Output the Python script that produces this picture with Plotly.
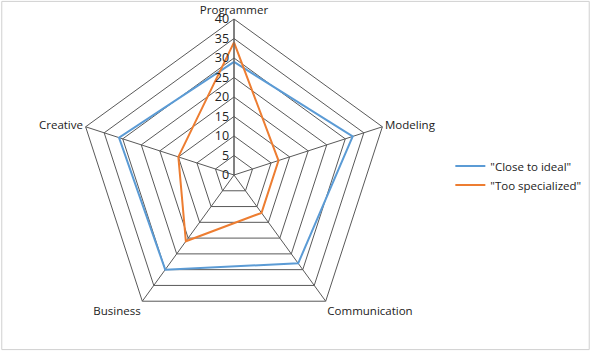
import plotly.graph_objects as go

categories = ["Programmer", "Modeling", "Communication", "Business", "Creative"]
close_to_ideal = [29, 32, 28, 30, 31]
too_specialized = [34, 12, 12, 21, 15]
series_names = ['"Close to ideal"', '"Too specialized"']
colors = ["#5B9BD5", "#ED7D31"]
radial_ticks = [0, 5, 10, 15, 20, 25, 30, 35, 40]

fig = go.Figure()
for name, vals, col in zip(series_names, [close_to_ideal, too_specialized], colors):
    fig.add_trace(go.Scatterpolar(
        r=vals + vals[:1],
        theta=categories + categories[:1],
        mode="lines",
        name=name,
        line=dict(color=col, width=2),
    ))

fig.update_layout(
    width=591, height=351,
    margin=dict(l=0, r=0, t=0, b=0),
    paper_bgcolor="white",
    plot_bgcolor="white",
    font=dict(family="Open Sans", size=11.5, color="#222"),
    polar=dict(
        domain=dict(x=[78/591, 390/591], y=[1-331/351, 1-19/351]),
        bgcolor="white",
        gridshape="linear",
        angularaxis=dict(
            direction="clockwise", rotation=90,
            showline=True, linecolor="#595959", linewidth=1,
            gridcolor="#595959", gridwidth=1,
            ticks="", tickfont=dict(size=11.5),
        ),
        radialaxis=dict(
            range=[0, 40], tickvals=radial_ticks, angle=90,
            side="counterclockwise", tickangle=90,
            showline=True, linecolor="#595959", linewidth=1,
            gridcolor="#595959", gridwidth=1,
            ticks="", tickfont=dict(size=12.5),
        ),
    ),
    legend=dict(x=0.762, y=0.5, yanchor="middle", xanchor="left",
                font=dict(size=11.5), bgcolor="rgba(0,0,0,0)",
                tracegroupgap=0),
    shapes=[dict(type="rect", xref="paper", yref="paper",
                 x0=0.003, x1=0.997, y0=0.004, y1=0.996,
                 line=dict(color="#d0d0d0", width=1))],
)

fig.write_html("out.html")
